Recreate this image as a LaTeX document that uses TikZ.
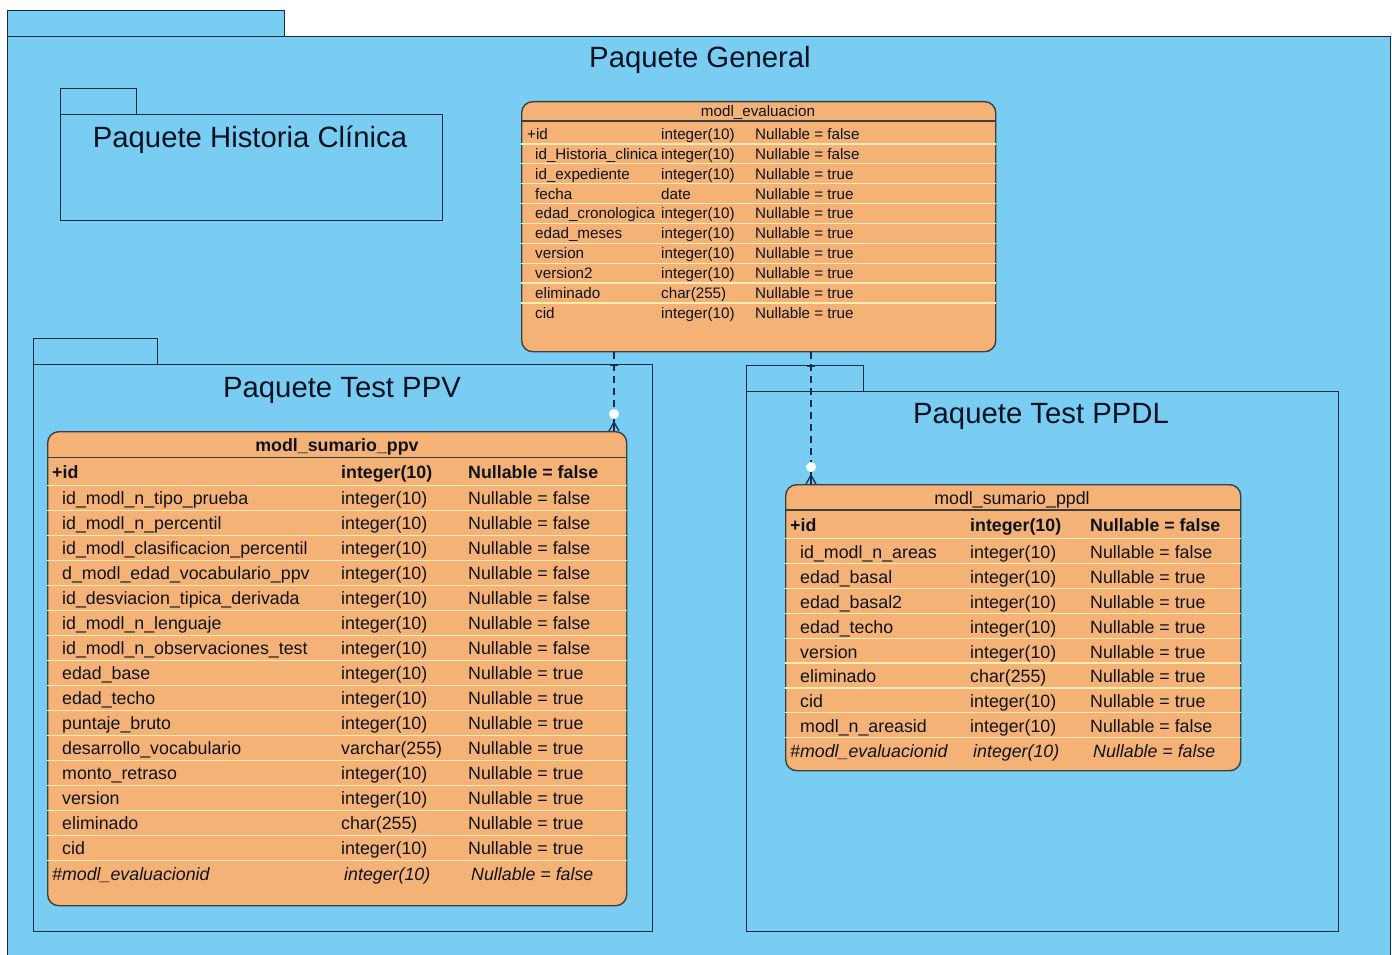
\documentclass[tikz,border=0pt]{standalone}
\usepackage{fontspec}
\setmainfont{Liberation Sans}
\usetikzlibrary{calc}
\definecolor{pkgblue}{RGB}{121,205,242}
\definecolor{linecol}{RGB}{22,42,78}
\definecolor{tblorange}{RGB}{245,178,118}
\definecolor{tblborder}{RGB}{62,62,62}
\definecolor{rowcol}{RGB}{255,236,176}
\definecolor{textcol}{RGB}{14,18,32}
\begin{document}
\begin{tikzpicture}[x=1pt,y=-1pt,
  pkg/.style={draw=linecol, line width=1.3pt, fill=pkgblue, rectangle, inner sep=0pt, anchor=north west},
  pkgtitle/.style={font=\fontsize{29.3}{34}\selectfont, text=textcol, inner sep=0pt, text height=21.1pt, text depth=0pt},
  tbl/.style={draw=tblborder, line width=1.4pt, fill=tblorange, rounded corners=11pt, rectangle, inner sep=0pt, anchor=north west},
  hsep/.style={draw=tblborder, line width=1.3pt},
  rowline/.style={draw=rowcol, line width=1.2pt},
  cellS/.style={font=\fontsize{15.2}{18}\selectfont, text=textcol, anchor=west, inner sep=0pt, text height=10.9pt, text depth=0pt},
  cellL/.style={font=\fontsize{17.8}{21}\selectfont, text=textcol, anchor=west, inner sep=0pt, text height=12.8pt, text depth=0pt},
  conn/.style={draw=linecol, line width=1.3pt, dash pattern=on 7pt off 5pt},
  foot/.style={draw=linecol, line width=1.3pt},
  zerocirc/.style={circle, fill=white, inner sep=0pt, minimum size=10pt}
]
\useasboundingbox (0,0) rectangle (1392,955);
\fill[white] (0,0) rectangle (1392,955);

% ---------- Paquete General ----------
\node[pkg, minimum width=277pt, minimum height=26pt] (gentab) at (7,10) {};
\node[pkg, minimum width=1383pt, minimum height=924pt] (gen) at (7,36) {};
\node[pkgtitle] (gentitle) at (700,57) {Paquete General};

% ---------- Paquete Historia Clinica ----------
\node[pkg, minimum width=76pt, minimum height=26pt] (hctab) at (60,88) {};
\node[pkg, minimum width=382pt, minimum height=106pt] (hc) at (60,114) {};
\node[pkgtitle] (hctitle) at (250,137) {Paquete Historia Clínica};

% ---------- Paquete Test PPV ----------
\node[pkg, minimum width=124pt, minimum height=26pt] (ppvtab) at (33,338) {};
\node[pkg, minimum width=619pt, minimum height=567pt] (ppvpkg) at (33,364) {};
\node[pkgtitle] (ppvtitle) at (342,387) {Paquete Test PPV};

% ---------- Paquete Test PPDL ----------
\node[pkg, minimum width=117pt, minimum height=26pt] (ppdltab) at (746,365) {};
\node[pkg, minimum width=592pt, minimum height=540pt] (ppdlpkg) at (746,391) {};
\node[pkgtitle] (ppdltitle) at (1041,413) {Paquete Test PPDL};

% ---------- modl_evaluacion ----------
\node[tbl, minimum width=474pt, minimum height=250pt] (eval) at (521,101) {};
\foreach \k in {0,...,8} {
  \draw[rowline] (eval.west |- 0,{144+19.87*\k}) -- (eval.east |- 0,{144+19.87*\k});
}
\draw[hsep] (eval.west |- 0,121) -- (eval.east |- 0,121);
\node[cellS, anchor=center] (evalhead) at (758,111) {modl\_evaluacion};
\node[cellS] (ev-n0) at (527,134) {+id};
\node[cellS] (ev-t0) at (661,134) {integer(10)};
\node[cellS] (ev-v0) at (755,134) {Nullable = false};
\foreach \n/\t/\v [count=\i] in {
  id\_Historia\_clinica/integer(10)/false,
  id\_expediente/integer(10)/true,
  fecha/date/true,
  edad\_cronologica/integer(10)/true,
  edad\_meses/integer(10)/true,
  version/integer(10)/true,
  version2/integer(10)/true,
  eliminado/char(255)/true,
  cid/integer(10)/true} {
  \node[cellS] (ev-n\i) at (535,{134+19.87*\i}) {\n};
  \node[cellS] (ev-t\i) at (661,{134+19.87*\i}) {\t};
  \node[cellS] (ev-v\i) at (755,{134+19.87*\i}) {Nullable = \v};
}

% ---------- modl_sumario_ppv ----------
\node[tbl, minimum width=579pt, minimum height=474pt] (ppv) at (47,431) {};
\foreach \k in {0,...,15} {
  \draw[rowline] (ppv.west |- 0,{485.5+25*\k}) -- (ppv.east |- 0,{485.5+25*\k});
}
\draw[hsep] (ppv.west |- 0,457.5) -- (ppv.east |- 0,457.5);
\node[cellL, anchor=center, font=\fontsize{17.8}{21}\selectfont\bfseries] (ppvhead) at (337,445) {modl\_sumario\_ppv};
\node[cellL, font=\fontsize{17.8}{21}\selectfont\bfseries] (pv-n0) at (52,472) {+id};
\node[cellL, font=\fontsize{17.8}{21}\selectfont\bfseries] (pv-t0) at (341,472) {integer(10)};
\node[cellL, font=\fontsize{17.8}{21}\selectfont\bfseries] (pv-v0) at (468,472) {Nullable = false};
\foreach \n/\t/\v [count=\i] in {
  id\_modl\_n\_tipo\_prueba/integer(10)/false,
  id\_modl\_n\_percentil/integer(10)/false,
  id\_modl\_clasificacion\_percentil/integer(10)/false,
  d\_modl\_edad\_vocabulario\_ppv/integer(10)/false,
  id\_desviacion\_tipica\_derivada/integer(10)/false,
  id\_modl\_n\_lenguaje/integer(10)/false,
  id\_modl\_n\_observaciones\_test/integer(10)/false,
  edad\_base/integer(10)/true,
  edad\_techo/integer(10)/true,
  puntaje\_bruto/integer(10)/true,
  desarrollo\_vocabulario/varchar(255)/true,
  monto\_retraso/integer(10)/true,
  version/integer(10)/true,
  eliminado/char(255)/true,
  cid/integer(10)/true} {
  \node[cellL] (pv-n\i) at (62,{473+25*\i}) {\n};
  \node[cellL] (pv-t\i) at (341,{473+25*\i}) {\t};
  \node[cellL] (pv-v\i) at (468,{473+25*\i}) {Nullable = \v};
}
\node[cellL, font=\fontsize{17.8}{21}\selectfont\itshape] (pv-nf) at (52,874) {\#modl\_evaluacionid};
\node[cellL, font=\fontsize{17.8}{21}\selectfont\itshape] (pv-tf) at (344,874) {integer(10)};
\node[cellL, font=\fontsize{17.8}{21}\selectfont\itshape] (pv-vf) at (471,874) {Nullable = false};

% ---------- modl_sumario_ppdl ----------
\node[tbl, minimum width=455pt, minimum height=286pt] (ppdl) at (785,484) {};
\foreach \k in {0,...,8} {
  \draw[rowline] (ppdl.west |- 0,{538.5+24.9*\k}) -- (ppdl.east |- 0,{538.5+24.9*\k});
}
\draw[hsep] (ppdl.west |- 0,510) -- (ppdl.east |- 0,510);
\node[cellL, anchor=center] (ppdlhead) at (1012,498) {modl\_sumario\_ppdl};
\node[cellL, font=\fontsize{17.8}{21}\selectfont\bfseries] (pd-n0) at (790,525.5) {+id};
\node[cellL, font=\fontsize{17.8}{21}\selectfont\bfseries] (pd-t0) at (970,525.5) {integer(10)};
\node[cellL, font=\fontsize{17.8}{21}\selectfont\bfseries] (pd-v0) at (1090,525.5) {Nullable = false};
\foreach \n/\t/\v [count=\i] in {
  id\_modl\_n\_areas/integer(10)/false,
  edad\_basal/integer(10)/true,
  edad\_basal2/integer(10)/true,
  edad\_techo/integer(10)/true,
  version/integer(10)/true,
  eliminado/char(255)/true,
  cid/integer(10)/true,
  modl\_n\_areasid/integer(10)/false} {
  \node[cellL] (pd-n\i) at (800,{527.1+24.9*\i}) {\n};
  \node[cellL] (pd-t\i) at (970,{527.1+24.9*\i}) {\t};
  \node[cellL] (pd-v\i) at (1090,{527.1+24.9*\i}) {Nullable = \v};
}
\node[cellL, font=\fontsize{17.8}{21}\selectfont\itshape] (pd-nf) at (790,751.3) {\#modl\_evaluacionid};
\node[cellL, font=\fontsize{17.8}{21}\selectfont\itshape] (pd-tf) at (973,751.3) {integer(10)};
\node[cellL, font=\fontsize{17.8}{21}\selectfont\itshape] (pd-vf) at (1093,751.3) {Nullable = false};

% ---------- connectors ----------
\coordinate (c1a) at (eval.south -| 614,0);
\node[zerocirc] (c1o) at (614,414) {};
\draw[conn] (c1a) -- (c1o.north);
\draw[foot] ($(c1a)+(-4,13)$) -- ($(c1a)+(4,13)$);
\draw[foot] (c1o.south) -- ++(0,3) coordinate (c1k);
\draw[foot] (c1k) -- (ppv.north -| 609,0);
\draw[foot] (c1k) -- (ppv.north -| 614,0);
\draw[foot] (c1k) -- (ppv.north -| 619,0);

\coordinate (c2a) at (eval.south -| 811,0);
\node[zerocirc] (c2o) at (811,467) {};
\draw[conn] (c2a) -- (c2o.north);
\draw[foot] ($(c2a)+(-4,14)$) -- ($(c2a)+(4,14)$);
\draw[foot] (c2o.south) -- ++(0,3) coordinate (c2k);
\draw[foot] (c2k) -- (ppdl.north -| 806,0);
\draw[foot] (c2k) -- (ppdl.north -| 811,0);
\draw[foot] (c2k) -- (ppdl.north -| 816,0);
\end{tikzpicture}
\end{document}
